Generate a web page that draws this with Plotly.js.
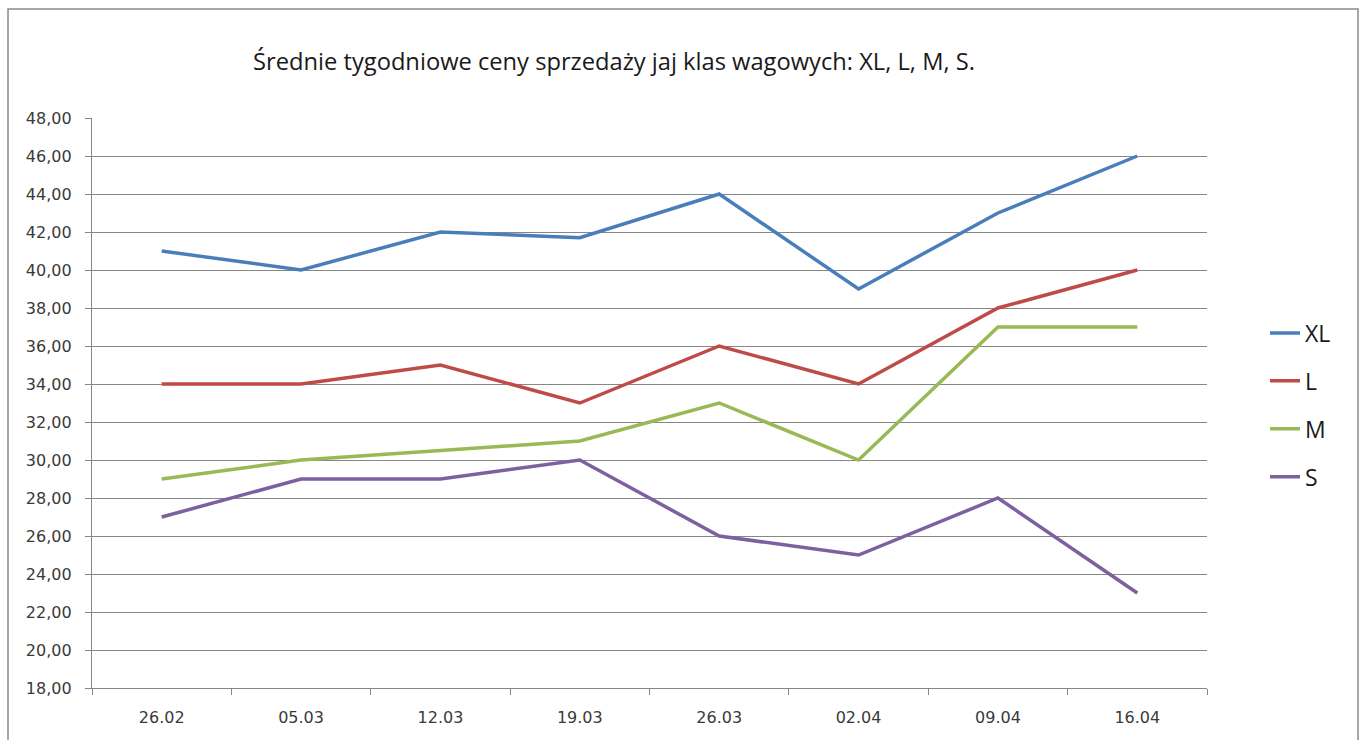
<!DOCTYPE html>
<html>
<head>
<meta charset="utf-8">
<script src="https://cdn.plot.ly/plotly-3.0.1.min.js"></script>
<style>
  html, body { margin: 0; padding: 0; background: #ffffff; }
  #chart { width: 1362px; height: 740px; }
</style>
</head>
<body>
<div id="chart"></div>
<script>
const categories = ["26.02", "05.03", "12.03", "19.03", "26.03", "02.04", "09.04", "16.04"];
const seriesNames = ["XL", "L", "M", "S"];
const valuesXL = [41, 40, 42, 41.7, 44, 39, 43, 46];
const valuesL  = [34, 34, 35, 33, 36, 34, 38, 40];
const valuesM  = [29, 30, 30.5, 31, 33, 30, 37, 37];
const valuesS  = [27, 29, 29, 30, 26, 25, 28, 23];
const seriesColors = ["#4A7EBB", "#BE4B48", "#98B954", "#7D60A0"];
const titleText = "Średnie tygodniowe ceny sprzedaży jaj klas wagowych: XL, L, M, S.";

const allValues = [valuesXL, valuesL, valuesM, valuesS];
const traces = allValues.map((vals, i) => ({
  type: "scatter",
  mode: "lines",
  x: categories,
  y: vals,
  name: seriesNames[i],
  legendgroup: seriesNames[i],
  line: { color: seriesColors[i], width: 3.5 },
  hoverinfo: "x+y+name"
}));

const gridColor = "#878787";
const tickFont = { family: "DejaVu Sans, Verdana, sans-serif", size: 16, color: "#3a3a3a" };
const layout = {
  width: 1362,
  height: 740,
  margin: { l: 92, r: 155, t: 118, b: 52, pad: 0 },
  paper_bgcolor: "#ffffff",
  plot_bgcolor: "#ffffff",
  separators: ", ",
  font: tickFont,
  title: {
    text: titleText,
    font: { family: "Open Sans, sans-serif", size: 23.7, color: "#1a1a1a" },
    xref: "container", yref: "container",
    x: 614 / 1362, xanchor: "center",
    y: 1 - 62 / 740, yanchor: "middle"
  },
  xaxis: {
    type: "category",
    range: [-0.5, 7.5],
    showgrid: false,
    showline: true,
    linecolor: gridColor,
    linewidth: 1.3,
    ticks: "outside",
    tickson: "boundaries",
    ticklen: 6,
    tickcolor: gridColor,
    tickwidth: 1.3,
    ticklabelstandoff: 15,
    tickfont: tickFont,
    fixedrange: true
  },
  yaxis: {
    range: [18, 48],
    dtick: 2,
    tick0: 18,
    tickformat: ".2f",
    showgrid: true,
    gridcolor: gridColor,
    gridwidth: 1.3,
    zeroline: false,
    showline: true,
    linecolor: gridColor,
    linewidth: 1.3,
    ticks: "outside",
    ticklen: 6,
    tickcolor: gridColor,
    tickwidth: 1.3,
    ticklabelstandoff: 10,
    tickfont: tickFont,
    fixedrange: true
  },
  showlegend: true,
  legend: {
    x: (1265 - 92) / 1115, xanchor: "left",
    y: 0.5 - 2 / 570, yanchor: "middle",
    tracegroupgap: 15,
    font: { family: "Open Sans, sans-serif", size: 23, color: "#1a1a1a" },
    bgcolor: "rgba(0,0,0,0)",
    itemwidth: 30
  },
  shapes: [{
    type: "rect",
    xref: "paper", yref: "paper",
    x0: (8 - 92) / 1115, x1: (1358 - 92) / 1115,
    y0: -(790 - 688) / 570, y1: 1 + (118 - 9) / 570,
    line: { color: "#8a8a8a", width: 1.5 },
    fillcolor: "rgba(0,0,0,0)",
    layer: "below"
  }]
};

Plotly.newPlot("chart", traces, layout, { displayModeBar: false });
</script>
</body>
</html>
